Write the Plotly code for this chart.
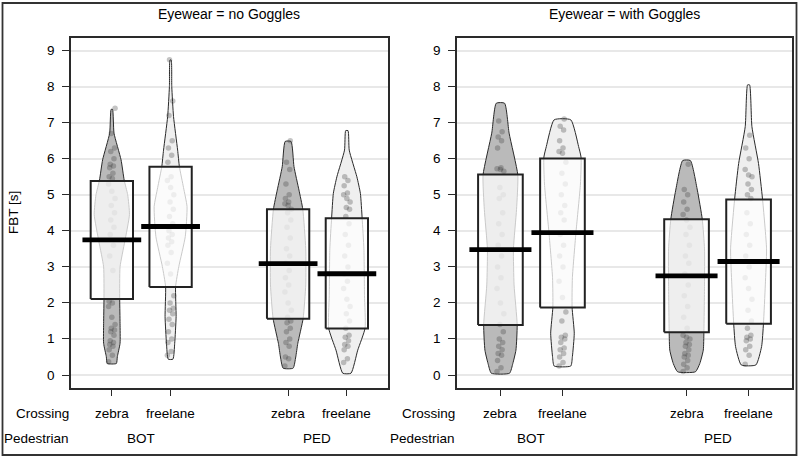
import plotly.graph_objects as go

# ---------------- data ----------------
panels = ["no Goggles", "with Goggles"]
pedestrians = ["BOT", "PED"]
crossings = ["zebra", "freelane"]
y_ticks = [0, 1, 2, 3, 4, 5, 6, 7, 8, 9]

# order within each panel: BOT-zebra, BOT-freelane, PED-zebra, PED-freelane
mean_noG = [3.75, 4.12, 3.09, 2.81]
lo_noG = [2.11, 2.44, 1.56, 1.29]
hi_noG = [5.38, 5.78, 4.60, 4.35]

mean_wG = [3.48, 3.95, 2.75, 3.15]
lo_wG = [1.39, 1.87, 1.19, 1.42]
hi_wG = [5.56, 6.01, 4.32, 4.87]

# bean density profiles (level, half-width in category units)
bean_lev_noG = [
    [0.32, 0.51, 0.88, 1.43, 2.08, 3.0, 3.7, 4.45, 5.0, 5.41, 5.97, 6.71, 7.37],
    [0.44, 0.88, 1.62, 2.45, 3.01, 3.84, 4.67, 5.2, 5.78, 6.24, 7.17, 8.0, 8.74],
    [0.19, 0.5, 0.88, 1.57, 2.5, 3.5, 4.6, 5.13, 5.78, 6.48],
    [0.05, 0.69, 1.3, 2.2, 3.5, 4.35, 5.04, 5.5, 6.24, 6.78],
]
bean_wid_noG = [
    [0.077, 0.094, 0.14, 0.14, 0.134, 0.14, 0.22, 0.30, 0.27, 0.21, 0.157, 0.037, 0.012],
    [0.04, 0.07, 0.094, 0.085, 0.14, 0.25, 0.28, 0.22, 0.15, 0.12, 0.05, 0.02, 0.01],
    [0.085, 0.13, 0.165, 0.256, 0.30, 0.30, 0.25, 0.185, 0.10, 0.05],
    [0.07, 0.185, 0.31, 0.30, 0.29, 0.26, 0.23, 0.17, 0.04, 0.02],
]
bean_lev_wG = [
    [0.05, 0.32, 0.69, 1.39, 2.5, 3.5, 4.6, 5.55, 6.71, 7.54],
    [0.25, 0.51, 1.16, 1.88, 2.7, 4.0, 5.3, 6.04, 6.34, 7.08],
    [0.09, 0.32, 0.69, 1.19, 2.5, 3.5, 4.32, 5.13, 5.95],
    [0.28, 0.79, 1.42, 2.5, 3.5, 4.88, 5.87, 6.89, 8.05],
]
bean_wid_wG = [
    [0.147, 0.20, 0.25, 0.27, 0.22, 0.21, 0.26, 0.28, 0.14, 0.067],
    [0.134, 0.16, 0.19, 0.155, 0.16, 0.22, 0.29, 0.30, 0.26, 0.134],
    [0.144, 0.214, 0.27, 0.28, 0.29, 0.29, 0.254, 0.174, 0.062],
    [0.118, 0.21, 0.24, 0.27, 0.29, 0.225, 0.16, 0.054, 0.016],
]

# raw observations (approximate)
pts_noG = [
    [0.37, 0.55, 0.7, 0.8, 0.85, 0.9, 0.95, 1.1, 1.2, 1.25, 1.3, 1.4, 1.6, 1.9, 2.0, 2.05,
     2.9, 3.3, 3.6, 3.9, 4.1, 4.3, 4.5, 4.7, 4.9, 5.1, 5.3, 5.45, 5.5, 5.6, 5.75, 5.8,
     5.85, 6.0, 6.2, 6.3, 6.7, 7.4],
    [0.55, 0.65, 0.9, 1.0, 1.2, 1.4, 1.55, 1.7, 1.8, 1.85, 2.0, 2.2, 2.8, 3.1, 3.4, 3.6,
     3.7, 3.8, 3.9, 4.0, 4.2, 4.4, 4.6, 4.8, 5.0, 5.2, 5.4, 5.5, 5.9, 6.1, 6.3, 6.5, 7.2,
     7.6, 8.75],
    [0.25, 0.45, 0.5, 0.8, 0.9, 1.0, 1.2, 1.3, 1.45, 1.5, 1.6, 1.8, 2.0, 2.3, 2.5, 2.7,
     2.9, 3.1, 3.3, 3.5, 3.8, 4.1, 4.3, 4.5, 4.6, 4.7, 4.75, 4.8, 4.9, 5.0, 5.3, 5.7,
     5.9, 6.5],
    [0.35, 0.45, 0.7, 0.8, 0.85, 0.95, 1.05, 1.1, 1.3, 1.5, 1.7, 1.9, 2.1, 2.4, 2.6, 2.8,
     3.0, 3.3, 3.6, 3.9, 4.2, 4.4, 4.6, 4.65, 4.8, 4.9, 5.0, 5.05, 5.25, 5.4, 5.5],
]
pts_wG = [
    [0.1, 0.2, 0.4, 0.55, 0.6, 0.7, 0.8, 0.9, 1.0, 1.2, 1.4, 1.7, 2.0, 2.4, 2.7, 3.0,
     3.3, 3.6, 3.9, 4.2, 4.5, 4.9, 5.0, 5.2, 5.65, 5.7, 5.72, 5.75, 6.3, 6.5, 6.6, 6.75,
     7.05],
    [0.25, 0.35, 0.5, 0.6, 0.7, 0.75, 0.9, 1.0, 1.05, 1.1, 1.5, 1.75, 2.15, 2.6, 3.0,
     3.3, 3.6, 3.9, 4.3, 4.5, 4.7, 5.0, 5.3, 5.6, 5.9, 6.15, 6.2, 6.3, 6.5, 6.8, 6.9, 7.1],
    [0.1, 0.2, 0.3, 0.4, 0.5, 0.55, 0.6, 0.7, 0.8, 0.85, 0.9, 1.0, 1.05, 1.1, 1.3, 1.6,
     1.9, 2.2, 2.5, 2.8, 3.1, 3.3, 3.6, 3.9, 4.1, 4.3, 4.45, 4.6, 4.8, 5.0, 5.15, 5.85],
    [0.3, 0.55, 0.7, 0.8, 0.95, 1.0, 1.05, 1.1, 1.3, 1.5, 1.8, 2.1, 2.4, 2.7, 3.0, 3.3,
     3.6, 3.9, 4.2, 4.5, 4.9, 5.0, 5.15, 5.3, 5.5, 5.55, 5.7, 6.0, 6.3, 6.65],
]

# ---------------- styling ----------------
FONT = "Liberation Sans, Arial, sans-serif"
W, H = 800, 458
bean_fill = {"zebra": "#bababa", "freelane": "#efefef"}

fig = go.Figure()

panel_data = [
    (mean_noG, lo_noG, hi_noG, bean_lev_noG, bean_wid_noG, pts_noG),
    (mean_wG, lo_wG, hi_wG, bean_lev_wG, bean_wid_wG, pts_wG),
]

for p, (means, los, his, levs, wids, pts) in enumerate(panel_data):
    xa = "x" if p == 0 else "x2"
    ya = "y" if p == 0 else "y2"
    k = 0
    for pi, ped in enumerate(pedestrians):
        for ci, cr in enumerate(crossings):
            c = pi * 3 + ci + 1
            lev, wid = levs[k], wids[k]
            bx = [c + w for w in wid] + [c - w for w in reversed(wid)] + [c + wid[0]]
            by = list(lev) + list(reversed(lev)) + [lev[0]]
            fig.add_trace(go.Scatter(x=bx, y=by, xaxis=xa, yaxis=ya, mode="lines",
                                     line=dict(color="#2a2a2a", width=1, shape="spline", smoothing=0.5),
                                     fill="toself", fillcolor=bean_fill[cr],
                                     hoverinfo="skip", showlegend=False))
            vals = pts[k]
            jit = [c + (((i * 7) % 13) - 6) / 6 * 0.055 for i in range(len(vals))]
            fig.add_trace(go.Scatter(x=jit, y=vals, xaxis=xa, yaxis=ya, mode="markers",
                                     marker=dict(size=5.5, color="rgba(60,60,60,0.30)", line=dict(width=0)),
                                     hoverinfo="skip", showlegend=False))
            fig.add_trace(go.Scatter(x=[c - 0.36, c + 0.36, c + 0.36, c - 0.36, c - 0.36],
                                     y=[los[k], los[k], his[k], his[k], los[k]],
                                     xaxis=xa, yaxis=ya, mode="lines",
                                     line=dict(color="#222222", width=2),
                                     fill="toself", fillcolor="rgba(255,255,255,0.75)",
                                     hoverinfo="skip", showlegend=False))
            fig.add_trace(go.Scatter(x=[c - 0.5, c + 0.5], y=[means[k], means[k]],
                                     xaxis=xa, yaxis=ya, mode="lines",
                                     line=dict(color="black", width=4.8),
                                     hoverinfo="skip", showlegend=False))
            k += 1

dom1 = [70.7 / W, 388 / W]
dom2 = [457 / W, 792 / W]
ydom = [1 - 388 / H, 1 - 38 / H]

xcommon = dict(range=[0.3, 5.7], showgrid=False, zeroline=False, showline=True, mirror=True,
               linecolor="#2a2a2a", linewidth=1.5, ticks="outside", ticklen=6, tickwidth=1,
               tickcolor="#2a2a2a", tickvals=[1, 2, 4, 5], showticklabels=False)
ycommon = dict(range=[-0.36, 9.35], showgrid=True, gridcolor="#e8e8e8", gridwidth=1.5,
               zeroline=False, showline=True, mirror=True, linecolor="#2a2a2a", linewidth=1.5,
               ticks="outside", ticklen=7, tickwidth=1, tickcolor="#2a2a2a",
               tickvals=y_ticks, showticklabels=False)

fig.update_layout(
    width=W, height=H, margin=dict(l=0, r=0, t=0, b=0),
    paper_bgcolor="white", plot_bgcolor="white",
    xaxis=dict(domain=dom1, anchor="y", **xcommon),
    xaxis2=dict(domain=dom2, anchor="y2", **xcommon),
    yaxis=dict(domain=ydom, anchor="x", **ycommon),
    yaxis2=dict(domain=ydom, anchor="x2", **ycommon),
    font=dict(family=FONT, size=13.5, color="black"),
)

ann = []
for p, panel in enumerate(panels):
    xr = "x" if p == 0 else "x2"
    yr = "y" if p == 0 else "y2"
    dom = dom1 if p == 0 else dom2
    ann.append(dict(text=f"Eyewear = {panel}", xref=xr, x=3.0, yref="paper", y=1 - 14 / H,
                    yanchor="middle", xanchor="center", showarrow=False, font=dict(size=14)))
    ann.append(dict(text="Crossing", xref=xr, x=0.3, yref="paper", y=1 - 413 / H,
                    xanchor="right", yanchor="middle", showarrow=False))
    ann.append(dict(text="Pedestrian", xref=xr, x=0.3, yref="paper", y=1 - 438 / H,
                    xanchor="right", yanchor="middle", showarrow=False))
    for pi, ped in enumerate(pedestrians):
        for ci, cr in enumerate(crossings):
            ann.append(dict(text=cr, xref=xr, x=pi * 3 + ci + 1, yref="paper", y=1 - 413 / H,
                            xanchor="center", yanchor="middle", showarrow=False))
        ann.append(dict(text=ped, xref=xr, x=pi * 3 + 1.5, yref="paper", y=1 - 438 / H,
                        xanchor="center", yanchor="middle", showarrow=False))
    for t in y_ticks:
        ann.append(dict(text=str(t), xref="paper", x=dom[0] - 14 / W, yref=yr, y=t,
                        xanchor="right", yanchor="middle", showarrow=False))
ann.append(dict(text="FBT [s]", xref="paper", x=14 / W, yref="paper", y=1 - 213 / H,
                textangle=-90, xanchor="center", yanchor="middle", showarrow=False))
fig.update_layout(annotations=ann)

fig.add_shape(type="rect", xref="paper", yref="paper",
              x0=2.5 / W, x1=796.5 / W, y0=1 - 455 / H, y1=1 - 3 / H,
              line=dict(color="#333333", width=1.8), fillcolor="rgba(0,0,0,0)")

fig.write_html("out.html", config={"displayModeBar": False},
               post_script="document.body.style.margin='0';document.body.style.overflow='hidden';")
